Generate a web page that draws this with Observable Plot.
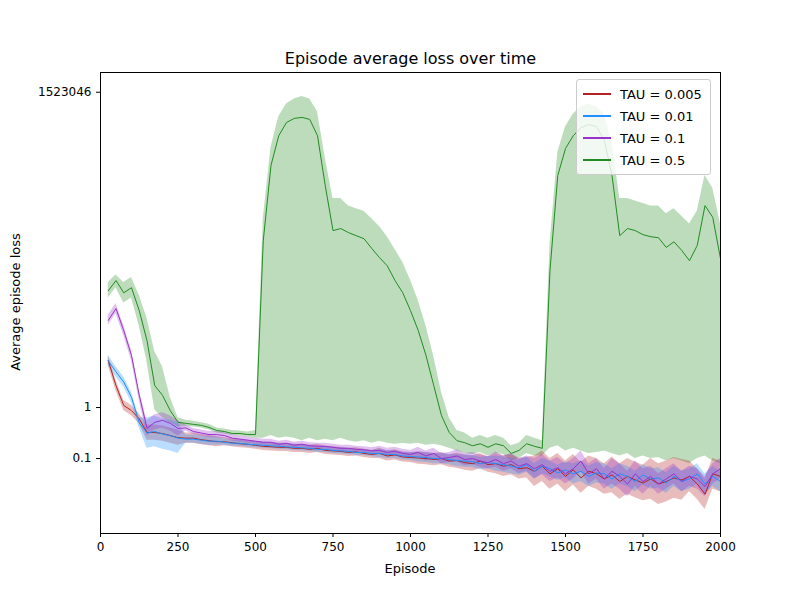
<!DOCTYPE html>
<html>
<head>
<meta charset="utf-8">
<script src="https://cdn.jsdelivr.net/npm/d3@7"></script>
<script src="https://cdn.jsdelivr.net/npm/@observablehq/plot@0.6"></script>
<style>
  body { margin: 0; background: #fff; font-family: "DejaVu Sans", sans-serif; }
  #wrap { position: relative; width: 800px; height: 600px; }
  #legend { position: absolute; left: 576px; top: 79px; border: 1px solid #ccc; border-radius: 3px;
    background: rgba(255,255,255,0.8); padding: 3px 8px 3px 6px; font-size: 13px; }
  #legend div { display: flex; align-items: center; height: 22px; }
  #legend span.sw { display: inline-block; width: 28px; height: 2px; margin-right: 9px; }
  .lab { position: absolute; font-size: 13px; color: #000; }
  #xlab { left: 0; width: 820px; text-align: center; top: 561px; }
  #ylab { left: 75px; top: 302px; transform: translate(-50%, -50%) rotate(-90deg); white-space: nowrap; }
</style>
</head>
<body>
<div id="wrap"><div id="chart"></div><div id="legend"></div>
<div id="xlab" class="lab">Episode</div><div id="ylab" class="lab" style="left:15px">Average episode loss</div></div>
<script>
// log10 of episode average loss, one value every 25 episodes (25..2000)
const episodes = d3.range(25, 2001, 25);
const tauLabels = ["TAU = 0.005", "TAU = 0.01", "TAU = 0.1", "TAU = 0.5"];
const colors = ["#b22222", "#1e90ff", "#9932cc", "#228b22"];
const yTicks = [0.1, 1, 1523046];

const tau0005 = [0.92,0.43,0.04,-0.06,-0.22,-0.49,-0.49,-0.51,-0.55,-0.59, -0.6,-0.6,-0.63,-0.65,-0.67,-0.67,-0.69,-0.71,-0.72,-0.74, -0.76,-0.77,-0.78,-0.78,-0.8,-0.8,-0.82,-0.8,-0.84,-0.85, -0.86,-0.88,-0.87,-0.9,-0.92,-0.9,-0.95,-0.93,-0.97,-0.98, -0.99,-1.0,-1.02,-1.0,-1.05,-1.04,-1.08,-1.1,-1.05,-1.12, -1.1,-1.15,-1.12,-1.2,-1.18,-1.25,-1.15,-1.3,-1.2,-1.35, -1.22,-1.38,-1.25,-1.3,-1.4,-1.32,-1.45,-1.35,-1.42,-1.48, -1.4,-1.5,-1.45,-1.38,-1.42,-1.35,-1.5,-1.7,-1.3,-1.35];
const tau001 = [0.92,0.7,0.5,0.2,-0.3,-0.5,-0.47,-0.52,-0.55,-0.6, -0.62,-0.62,-0.64,-0.66,-0.66,-0.68,-0.7,-0.7,-0.72,-0.73, -0.74,-0.75,-0.76,-0.77,-0.78,-0.79,-0.8,-0.82,-0.82,-0.84, -0.85,-0.86,-0.88,-0.88,-0.9,-0.9,-0.92,-0.92,-0.95,-0.96, -0.97,-0.98,-1.0,-1.0,-1.02,-1.04,-1.05,-1.06,-1.1,-1.08, -1.1,-1.12,-1.15,-1.18,-1.12,-1.25,-1.15,-1.2,-1.28,-1.22, -1.3,-1.25,-1.35,-1.28,-1.3,-1.4,-1.3,-1.35,-1.45,-1.32, -1.4,-1.38,-1.48,-1.35,-1.45,-1.4,-1.3,-1.5,-1.35,-1.45];
const tau01 = [1.71,1.94,1.51,1.02,0.24,-0.41,-0.29,-0.25,-0.31,-0.41, -0.4,-0.47,-0.5,-0.53,-0.53,-0.55,-0.6,-0.62,-0.64,-0.66, -0.68,-0.68,-0.72,-0.7,-0.74,-0.72,-0.75,-0.76,-0.76,-0.78, -0.8,-0.8,-0.82,-0.83,-0.85,-0.84,-0.88,-0.86,-0.9,-0.92, -0.88,-0.95,-0.9,-1.0,-0.98,-0.95,-1.02,-1.0,-1.05,-1.08, -1.02,-1.1,-1.05,-1.15,-1.1,-1.2,-1.12,-1.25,-1.18,-1.3, -1.2,-1.05,-1.3,-1.2,-1.4,-1.25,-1.35,-1.5,-1.3,-1.45, -1.35,-1.5,-1.4,-1.3,-1.45,-1.35,-1.4,-1.55,-1.3,-1.2];
const tau05 = [2.29,2.49,2.25,2.35,1.90,1.31,0.43,0.24,-0.06,-0.29, -0.31,-0.33,-0.35,-0.39,-0.45,-0.47,-0.51,-0.51,-0.53,-0.53, 3.27,4.75,5.33,5.59,5.67,5.69,5.65,5.33,4.35,3.47, 3.51,3.43,3.37,3.31,3.12,2.94,2.78,2.49,2.25,1.90, 1.51,1.02,0.43,-0.16,-0.49,-0.65,-0.69,-0.75,-0.71,-0.78, -0.71,-0.75,-0.90,-0.84,-0.71,-0.76,-0.80,2.69,4.55,5.08, 5.33,5.49,5.55,5.51,5.24,4.55,3.37,3.51,3.47,3.39, 3.35,3.33,3.14,3.25,3.08,2.88,3.18,3.96,3.73,2.92];

// band edges for TAU = 0.5 (log10)
const tau05Hi = [2.45,2.6,2.45,2.55,2.2,1.75,1.1,0.8,0.2,-0.2, -0.25,-0.27,-0.3,-0.33,-0.4,-0.42,-0.45,-0.46,-0.48,-0.45, 3.7,5.1,5.7,5.95,6.05,6.1,6.05,5.8,4.9,4.1, 4.1,3.95,3.9,3.85,3.7,3.55,3.35,3.1,2.85,2.5, 2.1,1.6,1.0,0.3,-0.2,-0.45,-0.5,-0.6,-0.55,-0.6, -0.55,-0.6,-0.75,-0.7,-0.55,-0.6,-0.65,3.2,5.0,5.5, 5.75,5.9,5.95,5.9,5.75,5.2,4.1,4.1,4.05,4.0, 3.95,3.95,3.8,3.9,3.75,3.6,3.85,4.55,4.3,3.6];
const tau05Lo = [2.15,2.35,2.05,2.15,1.6,0.9,-0.05,-0.2,-0.3,-0.38, -0.37,-0.38,-0.4,-0.44,-0.5,-0.52,-0.55,-0.56,-0.58,-0.6, -0.6,-0.55,-0.6,-0.58,-0.6,-0.65,-0.6,-0.65,-0.62,-0.65, -0.6,-0.65,-0.68,-0.65,-0.7,-0.66,-0.7,-0.72,-0.7,-0.72, -0.7,-0.74,-0.72,-0.75,-0.8,-0.85,-0.9,-0.92,-0.88,-0.95, -0.9,-0.92,-1.05,-1.0,-0.9,-0.95,-0.95,-0.8,-0.75,-0.85, -0.8,-0.85,-0.9,-0.88,-0.85,-0.9,-0.95,-0.9,-1.0,-0.95, -1.0,-0.98,-1.05,-1.0,-1.05,-1.1,-1.0,-0.95,-1.05,-1.1];

// band half-widths (decades) per 125-episode block for the other three
const spread0005 = [0.1,0.15,0.1,0.08,0.08,0.08,0.08,0.1,0.12,0.15,0.2,0.3,0.3,0.35,0.4,0.3];
const spread001 = [0.1,0.3,0.08,0.06,0.06,0.06,0.06,0.08,0.1,0.12,0.15,0.15,0.2,0.2,0.2,0.2];
const spread01 = [0.1,0.15,0.06,0.06,0.06,0.06,0.06,0.08,0.1,0.12,0.15,0.2,0.2,0.25,0.2,0.2];

const rows = [];
const add = (k, vals, lo, hi) => vals.forEach((v, i) =>
  rows.push({ tau: tauLabels[k], ep: episodes[i], y: 10 ** v, y1: 10 ** lo(i, v), y2: 10 ** hi(i, v) }));
[[tau0005, spread0005], [tau001, spread001], [tau01, spread01]].forEach(([vals, sp], k) =>
  add(k, vals, (i, v) => v - sp[Math.floor(i / 5)], (i, v) => v + sp[Math.floor(i / 5)]));
add(3, tau05, (i) => tau05Lo[i], (i) => tau05Hi[i]);

const order = [3, 0, 1, 2];

const chart = Plot.plot({
  width: 800, height: 600,
  marginTop: 72, marginLeft: 100, marginRight: 80, marginBottom: 67,
  style: { fontFamily: "DejaVu Sans", fontSize: "12px", background: "#fff" },
  x: { domain: [0, 2000], ticks: d3.range(0, 2001, 250), tickFormat: d => String(d), label: null, tickSize: 4 },
  y: { type: "log", domain: [10 ** -2.47, 10 ** 6.57], label: null, tickSize: 4 },
  marks: [
    ...order.map(k => Plot.areaY(rows.filter(d => d.tau === tauLabels[k]),
      { x: "ep", y1: "y1", y2: "y2", fill: colors[k], fillOpacity: 0.3 })),
    ...order.map(k => Plot.lineY(rows.filter(d => d.tau === tauLabels[k]),
      { x: "ep", y: "y", stroke: colors[k], strokeWidth: 1 })),
    Plot.axisY(yTicks, { tickFormat: d => String(d), tickSize: 4, fontSize: 12 }),
    Plot.frame({ stroke: "#000" }),
    Plot.text(["Episode average loss over time"], { frameAnchor: "top", dy: -20, fontSize: 16, fill: "#000" })
  ]
});
document.getElementById("chart").append(chart);

d3.select("#legend").selectAll("div").data(tauLabels).join("div")
  .html((d, i) => `<span class="sw" style="background:${colors[i]}"></span>${d}`);
</script>
</body>
</html>
